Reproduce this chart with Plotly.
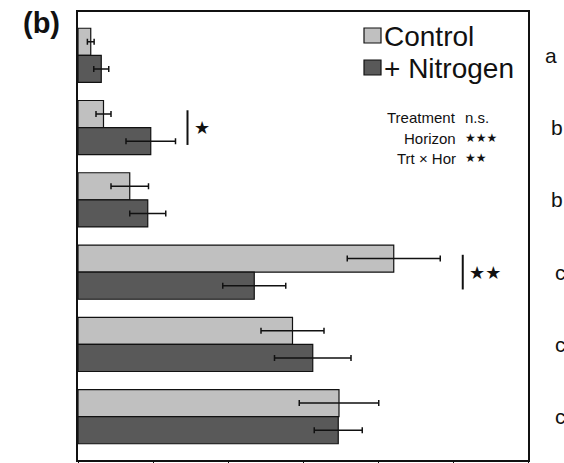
import plotly.graph_objects as go

# ---- data ----
horizon_pos = [0, 1, 2, 3, 4, 5]
control = [0.17, 0.34, 0.69, 4.21, 2.86, 3.48]
control_err = [0.045, 0.10, 0.25, 0.62, 0.42, 0.53]
nitrogen = [0.31, 0.97, 0.93, 2.35, 3.13, 3.47]
nitrogen_err = [0.10, 0.33, 0.24, 0.42, 0.51, 0.32]
group_letters = ["a", "b", "b", "c", "c", "c"]
x_ticks = [0, 1, 2, 3, 4, 5, 6]

W, H = 564, 463
L, R, T, B = 78, 528, 12, 460
FONT = "Liberation Sans, Arial, DejaVu Sans"
STARFONT = "DejaVu Sans"


def px(x):
    return (x - L) / (R - L)


def py(y):
    return 1 - (y - T) / (B - T)


fig = go.Figure()
fig.add_trace(go.Bar(
    y=horizon_pos, x=control, orientation="h", name="Control",
    marker=dict(color="#c0c0c0", line=dict(color="#111111", width=1.2)),
    error_x=dict(type="data", array=control_err, color="#111111", thickness=1.5, width=3),
    showlegend=False,
))
fig.add_trace(go.Bar(
    y=horizon_pos, x=nitrogen, orientation="h", name="+ Nitrogen",
    marker=dict(color="#595959", line=dict(color="#111111", width=1.2)),
    error_x=dict(type="data", array=nitrogen_err, color="#111111", thickness=1.5, width=3),
    showlegend=False,
))

shapes = []
annotations = []

# legend (manual)
for (y0, y1, col, label) in [(28, 43, "#c0c0c0", "Control"), (60, 75, "#595959", "+ Nitrogen")]:
    shapes.append(dict(type="rect", xref="paper", yref="paper",
                       x0=px(364), x1=px(381), y0=py(y1), y1=py(y0),
                       fillcolor=col, line=dict(color="#111111", width=1.2)))
    annotations.append(dict(xref="paper", yref="paper", x=px(382), y=py((y0 + y1) / 2 + 1),
                            text=label, showarrow=False, xanchor="left", yanchor="middle",
                            font=dict(family=FONT, size=28, color="#111111")))

# stats block
stats = [("Treatment", "n.s.", 118), ("Horizon", "★★★", 138), ("Trt × Hor", "★★", 158)]
for lab, val, y in stats:
    annotations.append(dict(xref="paper", yref="paper", x=px(458), y=py(y), text=lab,
                            showarrow=False, xanchor="right", yanchor="middle",
                            font=dict(family=FONT, size=15, color="#111111")))
    annotations.append(dict(xref="paper", yref="paper", x=px(463), y=py(y), text=val,
                            showarrow=False, xanchor="left", yanchor="middle",
                            font=dict(family=FONT if val == "n.s." else STARFONT,
                                      size=15 if val == "n.s." else 12, color="#111111")))

# significance brackets
for (xline, idx, stars) in [(1.46, 1, "★"), (5.13, 3, "★★")]:
    shapes.append(dict(type="line", xref="x", yref="y", x0=xline, x1=xline,
                       y0=idx - 0.24, y1=idx + 0.24, line=dict(color="#111111", width=2)))
    annotations.append(dict(xref="x", yref="y", x=xline + 0.06, y=idx, text=stars,
                            showarrow=False, xanchor="left", yanchor="middle",
                            font=dict(family=STARFONT, size=18, color="#111111")))

# group letters on the right
letter_x = [543, 549, 549, 553, 553, 553]
for i, (lt, lx) in enumerate(zip(group_letters, letter_x)):
    annotations.append(dict(xref="paper", yref="y", x=px(lx), y=horizon_pos[i], text=lt,
                            showarrow=False, xanchor="left", yanchor="middle",
                            font=dict(family=FONT, size=21, color="#111111")))

# panel label
annotations.append(dict(xref="paper", yref="paper", x=px(41), y=py(23), text="<b>(b)</b>",
                        showarrow=False, xanchor="center", yanchor="middle",
                        font=dict(family=FONT, size=29, color="#111111")))

fig.update_layout(
    width=W, height=H,
    margin=dict(l=L, r=W - R, t=T, b=H - B),
    paper_bgcolor="white", plot_bgcolor="white",
    barmode="group", bargap=0.25, bargroupgap=0,
    shapes=shapes, annotations=annotations,
    xaxis=dict(range=[0, 6], tickvals=x_ticks, showticklabels=False, ticks="outside",
               ticklen=8, tickwidth=1.2, tickcolor="#111111", automargin=False,
               showline=True, linecolor="#111111", linewidth=1.5, mirror=True,
               showgrid=False, zeroline=False, fixedrange=True),
    yaxis=dict(range=[5.6, -0.6], showticklabels=False, ticks="", automargin=False,
               showline=True, linecolor="#111111", linewidth=1.5, mirror=True,
               showgrid=False, zeroline=False, fixedrange=True),
    font=dict(family=FONT, color="#111111"),
)

fig.write_html("out.html", config=dict(displayModeBar=False))
